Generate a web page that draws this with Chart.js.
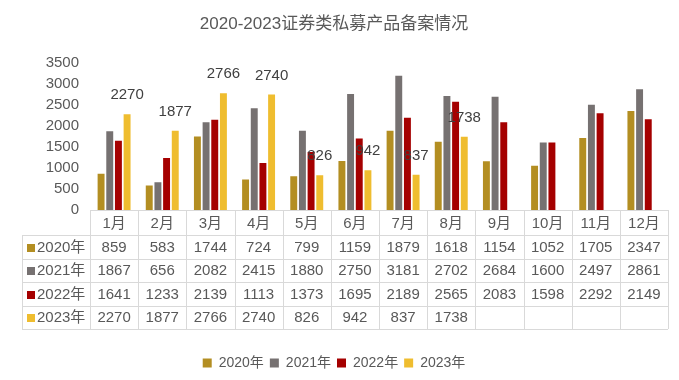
<!DOCTYPE html>
<html>
<head>
<meta charset="utf-8">
<script src="https://cdn.jsdelivr.net/npm/chart.js@4"></script>
<style>
  html, body { margin: 0; padding: 0; background: #fff; }
  canvas { display: block; }
</style>
</head>
<body>
<canvas id="grafica" width="679" height="380"></canvas>
<script>
// datos
const meses = ['1月', '2月', '3月', '4月', '5月', '6月', '7月', '8月', '9月', '10月', '11月', '12月'];
const series = ['2020年', '2021年', '2022年', '2023年'];
const datos2020 = [859, 583, 1744, 724, 799, 1159, 1879, 1618, 1154, 1052, 1705, 2347];
const datos2021 = [1867, 656, 2082, 2415, 1880, 2750, 3181, 2702, 2684, 1600, 2497, 2861];
const datos2022 = [1641, 1233, 2139, 1113, 1373, 1695, 2189, 2565, 2083, 1598, 2292, 2149];
const datos2023 = [2270, 1877, 2766, 2740, 826, 942, 837, 1738, null, null, null, null];
const ticksY = [0, 500, 1000, 1500, 2000, 2500, 3000, 3500];

const COLORES = ['#b38e22', '#767171', '#a50000', '#efbd2f'];
const FUENTE = '"Liberation Sans", "Noto Sans CJK SC", sans-serif';
const GRIS_TEXTO = '#595959';
const BORDE = '#d9d9d9';

const tablaAlto = 119;   // alto de la tabla de datos bajo el eje
const colIzq = 22;       // borde izquierdo de la tabla

// Tabla de datos dibujada con las posiciones del eje x
const tablaPlugin = {
  id: 'tablaDatos',
  afterDraw(chart) {
    const ctx = chart.ctx;
    const x = chart.scales.x;
    const area = chart.chartArea;
    const top = area.bottom;
    const filas = [datos2020, datos2021, datos2022, datos2023];
    const altoCab = 25;
    const altoFila = (tablaAlto - altoCab) / filas.length;
    const ancho = (area.right - area.left) / meses.length;

    ctx.save();
    ctx.strokeStyle = BORDE;
    ctx.lineWidth = 1;
    ctx.beginPath();
    // linea superior (eje)
    ctx.moveTo(area.left, top + 0.5);
    ctx.lineTo(area.right, top + 0.5);
    // lineas horizontales de filas
    for (let i = 0; i <= filas.length; i++) {
      const y = Math.round(top + altoCab + i * altoFila) + 0.5;
      ctx.moveTo(colIzq, y);
      ctx.lineTo(area.right, y);
    }
    // verticales
    for (let i = 0; i <= meses.length; i++) {
      const xx = Math.round(area.left + i * ancho) + 0.5;
      ctx.moveTo(xx, top);
      ctx.lineTo(xx, top + tablaAlto);
    }
    ctx.moveTo(colIzq + 0.5, top + altoCab);
    ctx.lineTo(colIzq + 0.5, top + tablaAlto);
    ctx.stroke();

    ctx.font = '15px ' + FUENTE;
    ctx.fillStyle = GRIS_TEXTO;
    ctx.textAlign = 'center';
    ctx.textBaseline = 'middle';
    meses.forEach((m, i) => {
      ctx.fillText(m, x.getPixelForValue(i), top + altoCab / 2 + 1);
    });

    filas.forEach((fila, r) => {
      const yc = top + altoCab + r * altoFila + altoFila / 2 + 1;
      // clave de la serie
      ctx.fillStyle = COLORES[r];
      ctx.fillRect(colIzq + 5, Math.round(yc - 4), 8, 8);
      ctx.fillStyle = GRIS_TEXTO;
      ctx.textAlign = 'left';
      ctx.fillText(series[r], colIzq + 15, yc);
      ctx.textAlign = 'center';
      fila.forEach((v, i) => {
        if (v === null) return;
        ctx.fillText(String(v), x.getPixelForValue(i), yc);
      });
    });
    ctx.restore();
  }
};

// Etiquetas de valor solo para 2023
const etiquetasPlugin = {
  id: 'etiquetas2023',
  afterDatasetsDraw(chart) {
    const ctx = chart.ctx;
    const meta = chart.getDatasetMeta(3);
    ctx.save();
    ctx.font = '15px ' + FUENTE;
    ctx.fillStyle = '#404040';
    ctx.textAlign = 'center';
    ctx.textBaseline = 'middle';
    meta.data.forEach((bar, i) => {
      const v = datos2023[i];
      if (v === null) return;
      ctx.fillText(String(v), bar.x, bar.y - 19);
    });
    ctx.restore();
  }
};

const ctx = document.getElementById('grafica').getContext('2d');
new Chart(ctx, {
  type: 'bar',
  data: {
    labels: meses,
    datasets: [datos2020, datos2021, datos2022, datos2023].map((d, i) => ({
      label: series[i],
      data: d,
      backgroundColor: COLORES[i],
      borderWidth: 0,
      categoryPercentage: 0.72,
      barPercentage: 0.8
    }))
  },
  options: {
    responsive: false,
    animation: false,
    layout: { padding: { left: 0, right: 11, top: 0, bottom: 0 } },
    plugins: {
      title: {
        display: true,
        text: '2020-2023证券类私募产品备案情况',
        color: GRIS_TEXTO,
        font: { family: FUENTE, size: 17, weight: 'normal' },
        padding: { top: 14, bottom: 28 }
      },
      legend: {
        position: 'bottom',
        labels: {
          color: GRIS_TEXTO,
          font: { family: FUENTE, size: 14 },
          boxWidth: 9,
          boxHeight: 9,
          padding: 6
        }
      },
      tooltip: { enabled: false }
    },
    scales: {
      x: {
        grid: { display: false, drawTicks: false },
        border: { display: false },
        ticks: { display: false },
        afterFit: s => { s.height = 140; }
      },
      y: {
        min: 0,
        max: 3500,
        afterBuildTicks: s => { s.ticks = ticksY.map(v => ({ value: v })); },
        grid: { display: false, drawTicks: false },
        border: { display: false },
        ticks: {
          color: GRIS_TEXTO,
          font: { family: FUENTE, size: 15 },
          padding: 11,
          callback: v => String(v)
        },
        afterFit: s => { s.width = 90; }
      }
    }
  },
  plugins: [tablaPlugin, etiquetasPlugin]
});
</script>
</body>
</html>
